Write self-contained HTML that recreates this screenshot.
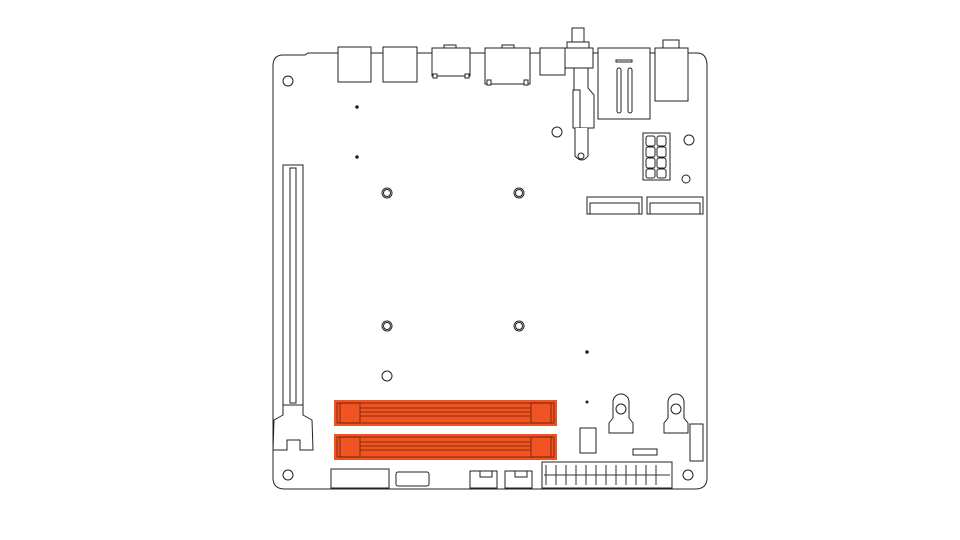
<!DOCTYPE html><html><head><style>body{margin:0;background:#fff}svg{display:block}</style></head><body>
<svg width="960" height="540" viewBox="0 0 960 540" xmlns="http://www.w3.org/2000/svg" fill="none" stroke="#222" stroke-width="1">
<path d="M283 55 L305 55 L308 53 L697 53 Q707 53 707 66 L707 478 Q707 489 695 489 L285 489 Q273 489 273 478 L273 66 Q273 55 283 55Z" fill="#fff"/>
<g fill="#fff">
<rect x="338" y="47" width="33" height="35"/><rect x="383" y="47" width="34" height="35"/>
<rect x="432" y="48" width="38" height="28"/><rect x="444" y="45" width="12" height="3"/>
<rect x="433" y="74" width="4" height="4"/><rect x="465" y="74" width="4" height="4"/>
<rect x="485" y="48" width="45" height="36"/><rect x="502" y="45" width="12" height="3"/>
<rect x="487" y="80" width="4" height="5"/><rect x="524" y="80" width="4" height="5"/>
<rect x="540" y="48" width="25" height="27"/>
<rect x="572" y="28" width="12" height="14"/><rect x="567" y="42" width="22" height="6"/>
<rect x="565" y="48" width="28" height="20"/>
<path d="M574 68 L574 128 L594 128 L594 95 L588 88 L588 68Z"/>
<rect x="573" y="90" width="7" height="38"/>
<path d="M575 128 L575 156 Q582 164 588 156 L588 128"/><circle cx="581" cy="156" r="3"/>
<rect x="598" y="48" width="52" height="71"/><rect x="616" y="60" width="16" height="2"/>
<rect x="617" y="68" width="4" height="45" rx="2"/><rect x="628" y="68" width="4" height="45" rx="2"/>
<rect x="655" y="48" width="33" height="53"/><rect x="663" y="40" width="16" height="8"/>
<rect x="643" y="133" width="27" height="47"/>
<rect x="646" y="136" width="9" height="10" rx="2"/><rect x="657" y="136" width="9" height="10" rx="2"/>
<rect x="646" y="147" width="9" height="10" rx="2"/><rect x="657" y="147" width="9" height="10" rx="2"/>
<rect x="646" y="158" width="9" height="10" rx="2"/><rect x="657" y="158" width="9" height="10" rx="2"/>
<rect x="646" y="169" width="9" height="9" rx="2"/><rect x="657" y="169" width="9" height="9" rx="2"/>
<rect x="587" y="197" width="55" height="17"/><rect x="590" y="203" width="49" height="11"/>
<rect x="647" y="197" width="56" height="17"/><rect x="650" y="203" width="50" height="11"/>
<rect x="283" y="165" width="20" height="242"/><rect x="290" y="168" width="6" height="235"/>
<path d="M283 405 L303 405 L303 415 L312 420 L313 450 L300 450 L300 440 L287 440 L287 450 L273 450 L274 420 L283 415Z"/>
<rect x="331" y="469" width="58" height="19"/><rect x="396" y="472" width="33" height="14" rx="2"/>
<rect x="470" y="471" width="27" height="17"/><rect x="480" y="471" width="12" height="6"/>
<rect x="505" y="471" width="27" height="17"/><rect x="515" y="471" width="12" height="6"/>
<rect x="542" y="462" width="130" height="26"/>
<path d="M613 402 a8 8 0 0 1 16 0 L629 418 L633 423 L633 433 L609 433 L609 423 L613 418Z"/><circle cx="621" cy="409" r="5"/>
<path d="M668 402 a8 8 0 0 1 16 0 L684 418 L688 423 L688 433 L664 433 L664 423 L668 418Z"/><circle cx="676" cy="409" r="5"/>
<rect x="580" y="428" width="16" height="25"/><rect x="633" y="449" width="24" height="6"/>
<rect x="690" y="424" width="13" height="37"/>
</g>
<g stroke="#333">
<path d="M546 465v20M556 465v20M566 465v20M576 465v20M586 465v20M596 465v20M606 465v20M616 465v20M626 465v20M636 465v20M646 465v20M656 465v20M544 475h126"/>
</g>
<g fill="#fff">
<circle cx="288" cy="81" r="5"/><circle cx="557" cy="132" r="5"/><circle cx="689" cy="140" r="5"/><circle cx="686" cy="179" r="4"/>
<circle cx="387" cy="193" r="5"/><circle cx="387" cy="193" r="3.5"/><circle cx="519" cy="193" r="5"/><circle cx="519" cy="193" r="3.5"/>
<circle cx="387" cy="326" r="5"/><circle cx="387" cy="326" r="3.5"/><circle cx="519" cy="326" r="5"/><circle cx="519" cy="326" r="3.5"/>
<circle cx="387" cy="376" r="5"/><circle cx="288" cy="475" r="5"/><circle cx="688" cy="475" r="5"/>
</g>
<g fill="#222" stroke="none"><circle cx="357" cy="107" r="1.8"/><circle cx="357" cy="157" r="1.8"/><circle cx="587" cy="352" r="1.8"/><circle cx="587" cy="402" r="1.5"/></g>
<g stroke="#6a1f08" stroke-width="0.8">
<rect x="334" y="400" width="223" height="26" fill="#F05423" stroke="none"/>
<rect x="334" y="434" width="223" height="26" fill="#F05423" stroke="none"/>
<rect x="337" y="403" width="217" height="20"/><rect x="337" y="437" width="217" height="20"/>
<rect x="340" y="403" width="20" height="20"/><rect x="531" y="403" width="20" height="20"/>
<rect x="340" y="437" width="20" height="20"/><rect x="531" y="437" width="20" height="20"/>
<path d="M360 408h171M360 412h171M360 416h171M360 442h171M360 446h171M360 450h171"/>
</g>
</svg></body></html>
